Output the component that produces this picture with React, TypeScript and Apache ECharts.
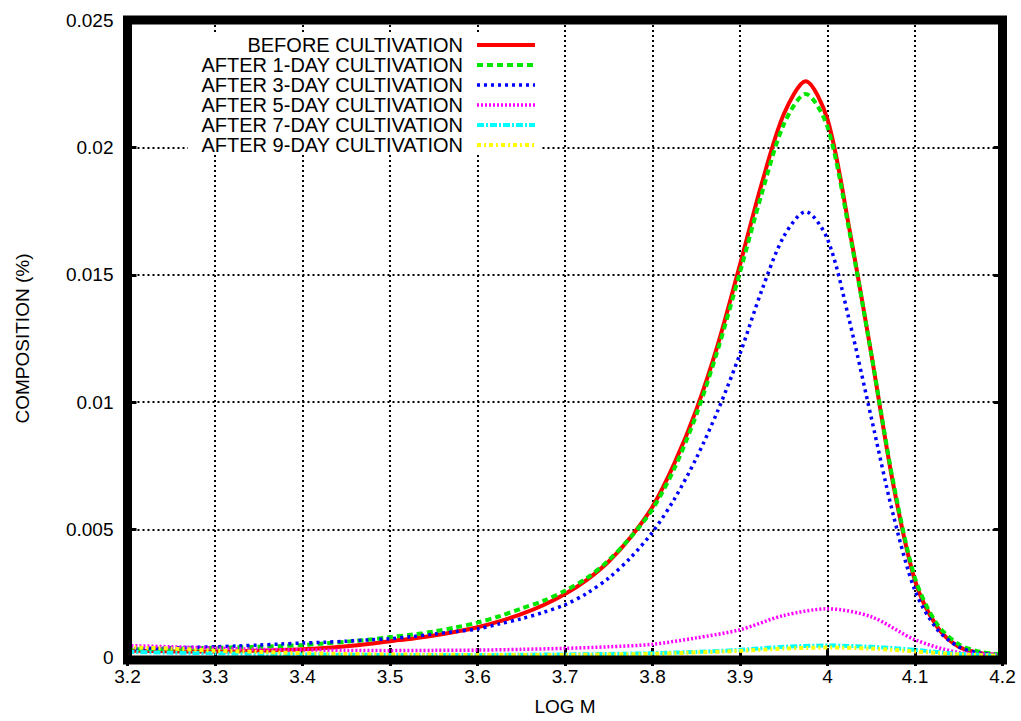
import React, { useEffect, useRef } from "react";
import * as echarts from "echarts";

const XS_MAIN = [3.2, 3.225, 3.25, 3.275, 3.3, 3.325, 3.35, 3.375, 3.4, 3.425, 3.45, 3.475, 3.5, 3.525, 3.55, 3.575, 3.6, 3.625, 3.65, 3.675, 3.7, 3.725, 3.75, 3.775, 3.8, 3.825, 3.85, 3.875, 3.9, 3.925, 3.95, 3.975, 4.0, 4.025, 4.05, 4.075, 4.1, 4.125, 4.15, 4.175, 4.2];
const BEFORE = [0.00025, 0.00024, 0.00022, 0.00022, 0.00022, 0.00023, 0.00025, 0.00027, 0.0003, 0.00035, 0.00042, 0.00051, 0.00062, 0.00072, 0.00084, 0.00099, 0.00117, 0.0014, 0.00168, 0.00203, 0.00247, 0.00303, 0.00375, 0.0047, 0.0059, 0.0076, 0.0097, 0.0123, 0.0154, 0.0186, 0.0213, 0.0226, 0.0211, 0.0168, 0.0119, 0.0068, 0.003, 0.0012, 0.0004, 0.00015, 0.00008];
const DAY1 = [0.0003, 0.00031, 0.00032, 0.00034, 0.00036, 0.00038, 0.0004, 0.00043, 0.00047, 0.00053, 0.0006, 0.00068, 0.00078, 0.00088, 0.001, 0.00116, 0.00135, 0.0016, 0.0019, 0.0022, 0.0026, 0.0031, 0.0038, 0.0047, 0.0058, 0.0074, 0.0095, 0.0121, 0.0151, 0.0182, 0.0209, 0.0221, 0.0208, 0.0167, 0.0119, 0.0069, 0.0031, 0.0013, 0.0005, 0.0002, 0.0001];
const DAY3 = [0.00032, 0.00034, 0.00036, 0.00038, 0.0004, 0.00043, 0.00047, 0.00051, 0.00055, 0.00058, 0.00062, 0.00067, 0.00072, 0.0008, 0.0009, 0.001, 0.0011, 0.0013, 0.0015, 0.00175, 0.00205, 0.0025, 0.0031, 0.0039, 0.0049, 0.0062, 0.0078, 0.0097, 0.0119, 0.0144, 0.0165, 0.01748, 0.0164, 0.0132, 0.0094, 0.0056, 0.0026, 0.0011, 0.0004, 0.00015, 0.00008];

const XS_MINOR = [3.2, 3.25, 3.3, 3.35, 3.4, 3.45, 3.5, 3.55, 3.6, 3.65, 3.7, 3.75, 3.8, 3.85, 3.9, 3.95, 4.0, 4.05, 4.1, 4.15, 4.2];
const DAY5 = [0.00045, 0.0004, 0.00035, 0.0003, 0.00028, 0.00026, 0.00025, 0.00026, 0.00027, 0.0003, 0.00034, 0.0004, 0.0005, 0.00075, 0.00107, 0.00163, 0.00189, 0.00158, 0.00068, 0.00018, 0.0001];
const DAY7 = [0.0002, 0.00017, 0.00015, 0.00012, 0.0001, 0.00009, 0.00008, 0.00008, 0.00008, 0.00009, 0.0001, 0.00012, 0.00015, 0.0002, 0.00028, 0.0004, 0.00045, 0.0004, 0.00028, 0.00012, 0.00005];
const DAY9 = [0.00038, 0.00033, 0.00025, 0.0002, 0.00015, 0.00012, 0.0001, 0.00009, 0.00008, 0.00008, 0.00008, 0.0001, 0.00012, 0.00018, 0.00024, 0.00033, 0.00037, 0.00033, 0.00022, 0.0001, 0.00005];

const NAMES = [
  "BEFORE CULTIVATION",
  "AFTER 1-DAY CULTIVATION",
  "AFTER 3-DAY CULTIVATION",
  "AFTER 5-DAY CULTIVATION",
  "AFTER 7-DAY CULTIVATION",
  "AFTER 9-DAY CULTIVATION",
];

const X_MIN = 3.2;
const X_MAX = 4.2;
const X_STEP = 0.1;
const Y_MIN = 0;
const Y_MAX = 0.025;
const Y_STEP = 0.005;

const STYLES: { color: string; width: number; type: any }[] = [
  { color: "#ff0000", width: 4, type: "solid" },
  { color: "#00e600", width: 4, type: [6, 4] },
  { color: "#0000ff", width: 3.5, type: [3, 4] },
  { color: "#ff00ff", width: 3.5, type: [2, 2] },
  { color: "#00ffff", width: 4, type: [7, 2, 2, 2] },
  { color: "#ffff00", width: 4, type: [4, 3, 2, 3] },
];

const FONT = "'Liberation Sans', Arial, Helvetica, sans-serif";

export default function App() {
  const ref = useRef<HTMLDivElement>(null);
  useEffect(() => {
    if (!ref.current) return;
    const chart = echarts.init(ref.current, null, { renderer: "svg" });
    const seriesData = [
      XS_MAIN.map((x, i) => [x, BEFORE[i]]),
      XS_MAIN.map((x, i) => [x, DAY1[i]]),
      XS_MAIN.map((x, i) => [x, DAY3[i]]),
      XS_MINOR.map((x, i) => [x, DAY5[i]]),
      XS_MINOR.map((x, i) => [x, DAY7[i]]),
      XS_MINOR.map((x, i) => [x, DAY9[i]]),
    ];
    const gridL = 127.5, gridT = 20, gridW = 875, gridH = 640;
    const legendGraphics: any[] = [
      { type: "rect", shape: { x: 188, y: 34, width: 352, height: 121 }, style: { fill: "#fff" }, z: 50 },
    ];
    NAMES.forEach((n, i) => {
      const y = 45 + i * 20;
      legendGraphics.push({
        type: "text",
        x: 463,
        y,
        z: 51,
        style: { text: n, fill: "#000", font: `20px ${FONT}`, textAlign: "right", textVerticalAlign: "middle" },
      });
      legendGraphics.push({
        type: "line",
        z: 51,
        shape: { x1: 477, y1: y, x2: 535, y2: y },
        style: { stroke: STYLES[i].color, lineWidth: STYLES[i].width, lineDash: STYLES[i].type === "solid" ? null : STYLES[i].type },
      });
    });
    const option: any = {
      animation: false,
      backgroundColor: "#fff",
      grid: { left: 127.5, right: 18.5, top: 20, bottom: 61, containLabel: false },
      xAxis: [
        {
          type: "value",
          min: X_MIN,
          max: X_MAX,
          interval: X_STEP,
          name: "LOG M",
          nameLocation: "middle",
          nameGap: 40,
          nameTextStyle: { fontSize: 19, fontFamily: FONT, color: "#000" },
          axisLine: { show: false },
          axisTick: { show: true, inside: true, length: 9, lineStyle: { color: "#000", width: 3 } },
          axisLabel: { fontSize: 19, fontFamily: FONT, color: "#000", margin: 10, formatter: (v: number) => String(Math.round(v * 10) / 10) },
          splitLine: { show: true, lineStyle: { color: "#000", width: 2, type: [2, 3] } },
        },
        {
          type: "value",
          position: "top",
          min: X_MIN,
          max: X_MAX,
          interval: X_STEP,
          axisLine: { show: false },
          axisTick: { show: true, inside: true, length: 9, lineStyle: { color: "#000", width: 3 } },
          axisLabel: { show: false },
          splitLine: { show: false },
        },
      ],
      yAxis: [
        {
          type: "value",
          min: Y_MIN,
          max: Y_MAX,
          interval: Y_STEP,
          name: "COMPOSITION (%)",
          nameLocation: "middle",
          nameGap: 96,
          nameTextStyle: { fontSize: 19, fontFamily: FONT, color: "#000" },
          axisLine: { show: false },
          axisTick: { show: true, inside: true, length: 9, lineStyle: { color: "#000", width: 3 } },
          axisLabel: { fontSize: 19, fontFamily: FONT, color: "#000", margin: 14 },
          splitLine: { show: true, lineStyle: { color: "#000", width: 2, type: [2, 3] } },
        },
        {
          type: "value",
          position: "right",
          min: Y_MIN,
          max: Y_MAX,
          interval: Y_STEP,
          axisLine: { show: false },
          axisTick: { show: true, inside: true, length: 9, lineStyle: { color: "#000", width: 3 } },
          axisLabel: { show: false },
          splitLine: { show: false },
        },
      ],
      series: seriesData.map((d, i) => ({
        type: "line",
        name: NAMES[i],
        data: d,
        xAxisIndex: 0,
        yAxisIndex: 0,
        showSymbol: false,
        symbol: "none",
        smooth: 0.3,
        z: 2 + i,
        lineStyle: { color: STYLES[i].color, width: STYLES[i].width, type: STYLES[i].type, cap: "butt" },
      })),
      graphic: [
        {
          type: "rect",
          z: 100,
          shape: { x: gridL, y: gridT, width: gridW, height: gridH },
          style: { fill: "transparent", stroke: "#000", lineWidth: 9 },
        },
        ...legendGraphics,
      ],
    };
    chart.setOption(option);
    return () => chart.dispose();
  }, []);
  return <div ref={ref} style={{ position: "fixed", left: 0, top: 0, width: 1021, height: 721 }} />;
}
